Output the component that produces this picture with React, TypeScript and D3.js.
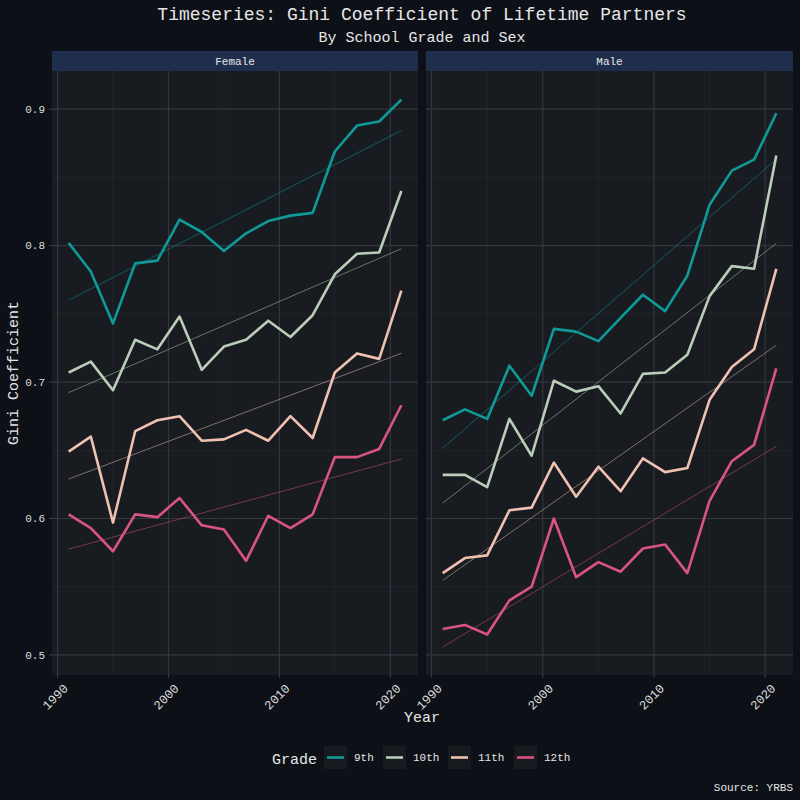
import React, { useEffect, useRef } from "react";
import * as d3 from "d3";

const years = [1991, 1993, 1995, 1997, 1999, 2001, 2003, 2005, 2007, 2009, 2011, 2013, 2015, 2017, 2019, 2021];
const grades = ["9th", "10th", "11th", "12th"];
const gradeColors = ["#0f9a98", "#b9cdb9", "#efc1b1", "#d9547f"];

const female9 = [0.802, 0.781, 0.743, 0.787, 0.789, 0.819, 0.81, 0.796, 0.809, 0.818, 0.822, 0.824, 0.869, 0.888, 0.891, 0.907];
const female10 = [0.707, 0.715, 0.694, 0.731, 0.724, 0.748, 0.709, 0.726, 0.731, 0.745, 0.733, 0.749, 0.779, 0.794, 0.795, 0.84];
const female11 = [0.649, 0.66, 0.597, 0.664, 0.672, 0.675, 0.657, 0.658, 0.665, 0.657, 0.675, 0.659, 0.707, 0.721, 0.717, 0.767];
const female12 = [0.603, 0.593, 0.576, 0.603, 0.601, 0.615, 0.595, 0.592, 0.569, 0.602, 0.593, 0.603, 0.645, 0.645, 0.651, 0.683];
const male9 = [0.672, 0.68, 0.673, 0.712, 0.69, 0.739, 0.737, 0.73, 0.747, 0.764, 0.752, 0.778, 0.83, 0.855, 0.863, 0.897];
const male10 = [0.632, 0.632, 0.623, 0.673, 0.646, 0.701, 0.693, 0.697, 0.677, 0.706, 0.707, 0.72, 0.763, 0.785, 0.783, 0.866];
const male11 = [0.56, 0.571, 0.573, 0.606, 0.608, 0.641, 0.616, 0.638, 0.62, 0.644, 0.634, 0.637, 0.687, 0.711, 0.724, 0.783];
const male12 = [0.519, 0.522, 0.515, 0.54, 0.55, 0.6, 0.557, 0.568, 0.561, 0.578, 0.581, 0.56, 0.613, 0.642, 0.654, 0.71];

const seriesBySex: Record<string, number[][]> = {
  Female: [female9, female10, female11, female12],
  Male: [male9, male10, male11, male12],
};

const yTicks = [0.5, 0.6, 0.7, 0.8, 0.9];
const yMinor = [0.55, 0.65, 0.75, 0.85];
const xTicks = [1990, 2000, 2010, 2020];
const xMinor = [1995, 2005, 2015];

const FONT = "'Liberation Mono', 'DejaVu Sans Mono', monospace";

function linreg(xs: number[], ys: number[]) {
  const mx = d3.mean(xs) as number;
  const my = d3.mean(ys) as number;
  let num = 0;
  let den = 0;
  xs.forEach((x, i) => {
    num += (x - mx) * (ys[i] - my);
    den += (x - mx) * (x - mx);
  });
  const b = num / den;
  return (x: number) => my + b * (x - mx);
}

const App = () => {
  const ref = useRef<SVGSVGElement>(null);

  useEffect(() => {
    const width = 800;
    const height = 800;
    const svg = d3.select(ref.current);
    svg.selectAll("*").remove();
    svg.attr("width", width).attr("height", height)
      .style("display", "block")
      .style("position", "absolute")
      .style("left", "0px")
      .style("top", "0px");

    svg.append("rect").attr("width", width).attr("height", height).attr("fill", "#0d1117");

    // titles
    svg.append("text")
      .attr("x", 422).attr("y", 20)
      .attr("text-anchor", "middle")
      .attr("font-family", FONT).attr("font-size", 18)
      .attr("fill", "#e6e6e6")
      .text("Timeseries: Gini Coefficient of Lifetime Partners");
    svg.append("text")
      .attr("x", 422).attr("y", 42)
      .attr("text-anchor", "middle")
      .attr("font-family", FONT).attr("font-size", 15)
      .attr("fill", "#e6e6e6")
      .text("By School Grade and Sex");

    const panelTop = 71;
    const panelBottom = 675;
    const panels = [
      { sex: "Female", x0: 52, x1: 418 },
      { sex: "Male", x0: 426, x1: 793 },
    ];

    const y = d3.scaleLinear().domain([0.4853, 0.928]).range([panelBottom, panelTop]);

    panels.forEach((p) => {
      const x = d3.scaleLinear().domain([1989.5, 2022.5]).range([p.x0, p.x1]);
      const g = svg.append("g");

      // strip
      g.append("rect")
        .attr("x", p.x0).attr("y", 51)
        .attr("width", p.x1 - p.x0).attr("height", 20)
        .attr("fill", "#1f2e4c");
      g.append("text")
        .attr("x", (p.x0 + p.x1) / 2).attr("y", 65)
        .attr("text-anchor", "middle")
        .attr("font-family", FONT).attr("font-size", 11)
        .attr("fill", "#e6e6e6")
        .text(p.sex);

      // panel bg
      g.append("rect")
        .attr("x", p.x0).attr("y", panelTop)
        .attr("width", p.x1 - p.x0).attr("height", panelBottom - panelTop)
        .attr("fill", "#181c21");

      // grid
      yMinor.forEach((v) => {
        g.append("line").attr("x1", p.x0).attr("x2", p.x1)
          .attr("y1", y(v)).attr("y2", y(v))
          .attr("stroke", "#23272d").attr("stroke-width", 0.8);
      });
      xMinor.forEach((v) => {
        g.append("line").attr("x1", x(v)).attr("x2", x(v))
          .attr("y1", panelTop).attr("y2", panelBottom)
          .attr("stroke", "#23272d").attr("stroke-width", 0.8);
      });
      yTicks.forEach((v) => {
        g.append("line").attr("x1", p.x0).attr("x2", p.x1)
          .attr("y1", y(v)).attr("y2", y(v))
          .attr("stroke", "#33373e").attr("stroke-width", 1.2);
      });
      xTicks.forEach((v) => {
        g.append("line").attr("x1", x(v)).attr("x2", x(v))
          .attr("y1", panelTop).attr("y2", panelBottom)
          .attr("stroke", "#33373e").attr("stroke-width", 1.2);
      });

      // x ticks and labels
      xTicks.forEach((v) => {
        g.append("line").attr("x1", x(v)).attr("x2", x(v))
          .attr("y1", panelBottom).attr("y2", panelBottom + 3)
          .attr("stroke", "#3a3e45");
        g.append("text")
          .attr("transform", `translate(${x(v) + 5},${panelBottom + 8}) rotate(-45)`)
          .attr("text-anchor", "end")
          .attr("dy", "0.7em")
          .attr("font-family", FONT).attr("font-size", 12.5)
          .attr("fill", "#dcdcdc")
          .text(String(v));
      });

      const series = seriesBySex[p.sex];
      const line = d3.line<number>().x((_, i) => x(years[i])).y((d) => y(d));

      // trend lines
      series.forEach((vals, gi) => {
        const f = linreg(years, vals);
        g.append("line")
          .attr("x1", x(years[0])).attr("y1", y(f(years[0])))
          .attr("x2", x(years[years.length - 1])).attr("y2", y(f(years[years.length - 1])))
          .attr("stroke", gradeColors[gi])
          .attr("stroke-opacity", 0.5)
          .attr("stroke-width", 1);
      });

      series.forEach((vals, gi) => {
        g.append("path")
          .datum(vals)
          .attr("d", line)
          .attr("fill", "none")
          .attr("stroke", gradeColors[gi])
          .attr("stroke-width", 2.6)
          .attr("stroke-linejoin", "round");
      });
    });

    // y axis ticks (left panel only)
    yTicks.forEach((v) => {
      svg.append("line").attr("x1", 49).attr("x2", 52)
        .attr("y1", y(v)).attr("y2", y(v))
        .attr("stroke", "#3a3e45");
      svg.append("text")
        .attr("x", 45).attr("y", y(v))
        .attr("dy", "0.35em")
        .attr("text-anchor", "end")
        .attr("font-family", FONT).attr("font-size", 11)
        .attr("fill", "#dcdcdc")
        .text(d3.format(".1f")(v));
    });

    svg.append("text")
      .attr("transform", `translate(18,${(panelTop + panelBottom) / 2}) rotate(-90)`)
      .attr("text-anchor", "middle")
      .attr("font-family", FONT).attr("font-size", 15)
      .attr("fill", "#e6e6e6")
      .text("Gini Coefficient");

    svg.append("text")
      .attr("x", 422).attr("y", 722)
      .attr("text-anchor", "middle")
      .attr("font-family", FONT).attr("font-size", 15)
      .attr("fill", "#e6e6e6")
      .text("Year");

    // legend
    const lg = svg.append("g");
    lg.append("text")
      .attr("x", 272).attr("y", 764)
      .attr("font-family", FONT).attr("font-size", 15)
      .attr("fill", "#e6e6e6")
      .text("Grade");
    const keyX = [324, 383, 448, 514];
    grades.forEach((gname, i) => {
      lg.append("rect")
        .attr("x", keyX[i]).attr("y", 746)
        .attr("width", 23).attr("height", 23)
        .attr("fill", "#171b20");
      lg.append("line")
        .attr("x1", keyX[i] + 3).attr("x2", keyX[i] + 20)
        .attr("y1", 757.5).attr("y2", 757.5)
        .attr("stroke", gradeColors[i]).attr("stroke-width", 2.6);
      lg.append("text")
        .attr("x", keyX[i] + 30).attr("y", 761)
        .attr("font-family", FONT).attr("font-size", 11)
        .attr("fill", "#e6e6e6")
        .text(gname);
    });

    svg.append("text")
      .attr("x", 793).attr("y", 791)
      .attr("text-anchor", "end")
      .attr("font-family", FONT).attr("font-size", 11)
      .attr("fill", "#e6e6e6")
      .text("Source: YRBS");
  }, []);

  return <svg ref={ref}></svg>;
};

export default App;
